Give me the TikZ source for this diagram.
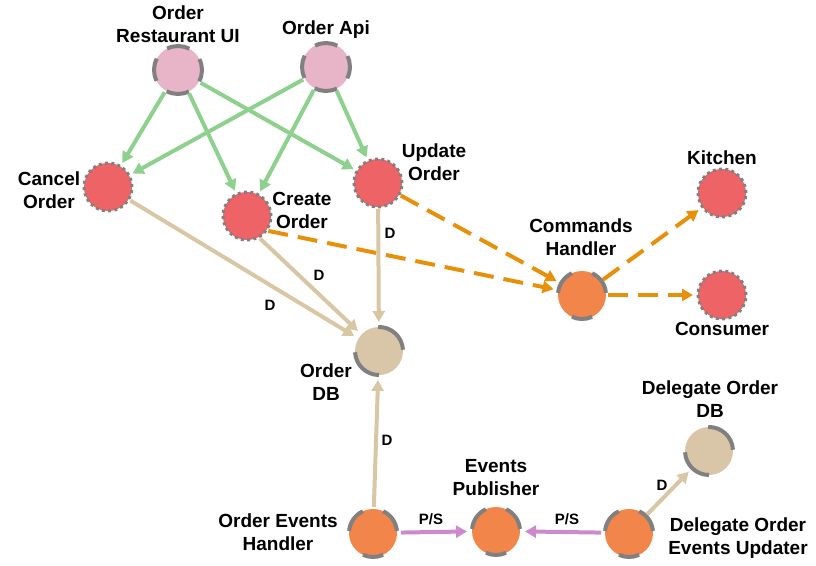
\documentclass[tikz,border=0pt]{standalone}
\usepackage{fontspec}
\setmainfont{Liberation Sans}
\usetikzlibrary{arrows.meta,calc}
\definecolor{pinkfill}{HTML}{E8B4C8}
\definecolor{redfill}{HTML}{EE6466}
\definecolor{orangefill}{HTML}{F2854A}
\definecolor{tanfill}{HTML}{D9C6A8}
\definecolor{ringgray}{HTML}{808080}
\definecolor{greenline}{HTML}{8ED08E}
\definecolor{tanline}{HTML}{D9C6A5}
\definecolor{orangeline}{HTML}{E8900A}
\definecolor{purpleline}{HTML}{CC8ACC}
\tikzset{
  base/.style={circle,minimum size=48pt,inner sep=0pt,outer sep=2pt},
  uinode/.style={base,fill=pinkfill},
  svcnode/.style={base,fill=redfill,draw=ringgray,line width=3pt,dash pattern=on 3pt off 3.28pt},
  handnode/.style={base,fill=orangefill},
  dbnode/.style={base,fill=tanfill},
  ringline/.style={draw=ringgray,line width=4pt},
  lbl/.style={align=center,font=\fontsize{19}{23}\selectfont\bfseries,text=black},
  elbl/.style={font=\fontsize{15}{17}\selectfont\bfseries,text=black},
  tip/.style={-{Triangle[length=11pt,width=12pt]}},
  green/.style={tip,draw=greenline,line width=4pt,shorten >=2pt},
  tanarrow/.style={tip,draw=tanline,line width=4pt,shorten >=3pt},
  cmdarrow/.style={tip,draw=orangeline,line width=4pt,dash pattern=on 20pt off 10pt,shorten >=3pt},
  psarrow/.style={tip,draw=purpleline,line width=4pt,shorten >=3pt,shorten <=2pt},
}
\newcommand{\ringarc}[3]{\draw[ringline] ($(#1.center)+(#2:24pt)$) arc[start angle=#2,end angle=#3,radius=24pt];}
\newcommand{\uirings}[1]{\ringarc{#1}{-28}{27}\ringarc{#1}{62}{117}\ringarc{#1}{152}{207}\ringarc{#1}{242}{297}}
\newcommand{\handrings}[1]{\ringarc{#1}{5}{65}\ringarc{#1}{115}{175}\ringarc{#1}{245}{295}}
\newcommand{\dbrings}[1]{\ringarc{#1}{3}{92}\ringarc{#1}{183}{270}}
\begin{document}
\begin{tikzpicture}[x=1pt,y=-1pt]
\useasboundingbox (0,0) rectangle (816,565);
% nodes
\node[uinode] (ui) at (178,70) {};
\node[uinode] (api) at (326,67) {};
\node[svcnode] (cancel) at (108,187) {};
\node[svcnode] (create) at (247,216) {};
\node[svcnode] (update) at (378,183) {};
\node[dbnode] (db) at (379,351) {};
\node[handnode] (cmd) at (582,295) {};
\node[svcnode] (kitchen) at (722,193) {};
\node[svcnode] (consumer) at (722,295) {};
\node[handnode] (oeh) at (373,533) {};
\node[handnode] (pub) at (496,531) {};
\node[handnode] (deu) at (629,533) {};
\node[dbnode] (ddb) at (709,451) {};
% rings
\uirings{ui}
\uirings{api}
\handrings{cmd}
\handrings{oeh}
\handrings{pub}
\handrings{deu}
\dbrings{db}
\dbrings{ddb}
% labels
\node[lbl] (uil) at (178,24) {Order\\Restaurant UI};
\node[lbl] (apil) at (326,30) {Order Api};
\node[lbl] (cancell) at (49,190) {Cancel\\Order};
\node[lbl] (createl) at (302,210) {Create\\Order};
\node[lbl] (updatel) at (434,162) {Update\\Order};
\node[lbl] (dbl) at (326,382) {Order\\DB};
\node[lbl] (cmdl) at (581,237) {Commands\\Handler};
\node[lbl] (kitchenl) at (722,158) {Kitchen};
\node[lbl] (consumerl) at (722,329) {Consumer};
\node[lbl] (oehl) at (278,532) {Order Events\\Handler};
\node[lbl] (publ) at (496,478) {Events\\Publisher};
\node[lbl] (deul) at (738,538) {Delegate Order\\Events Updater};
\node[lbl] (ddbl) at (710,399) {Delegate Order\\DB};
% green edges
\draw[green] (ui) -- (cancel);
\draw[green] (ui) -- (create);
\draw[green] (ui) -- (update);
\draw[green] (api) -- (cancel);
\draw[green] (api) -- (create);
\draw[green] (api) -- (update);
% tan edges
\draw[tanarrow] (cancel) -- (db);
\draw[tanarrow] (create.-60) -- (db);
\draw[tanarrow] (update) -- (db);
\draw[tanarrow] (oeh) -- (db);
\draw[tanarrow] (deu) -- (ddb);
\node[elbl] (d1) at (270,305) {D};
\node[elbl] (d2) at (319,275) {D};
\node[elbl] (d3) at (390,233) {D};
\node[elbl] (d4) at (387,440) {D};
\node[elbl] (d5) at (662,485) {D};
% orange dashed
\draw[cmdarrow] (update) -- (cmd);
\draw[cmdarrow] (create.-35) -- (cmd);
\draw[cmdarrow] (cmd) -- (kitchen);
\draw[cmdarrow] (cmd) -- (consumer);
% purple
\draw[psarrow] (oeh) -- (pub);
\draw[psarrow] (deu) -- (pub);
\node[elbl] (ps1) at (431,519) {P/S};
\node[elbl] (ps2) at (567,519) {P/S};
\end{tikzpicture}
\end{document}
